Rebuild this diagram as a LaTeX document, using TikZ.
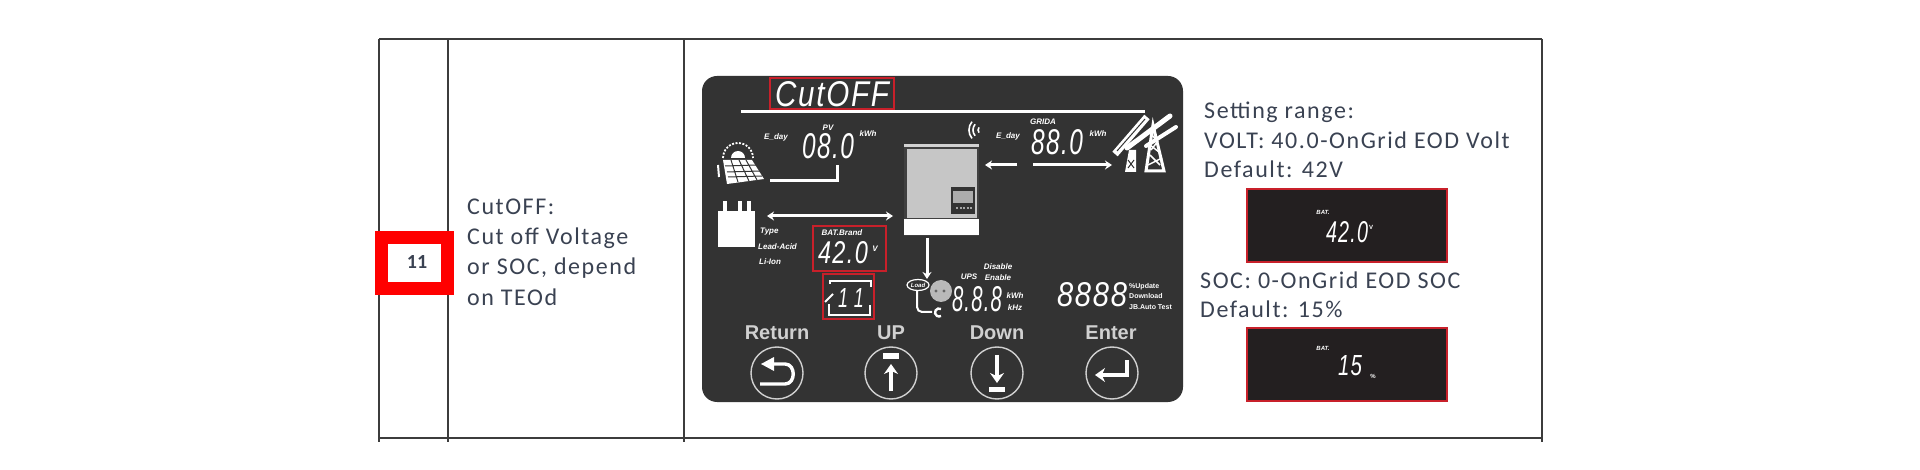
\documentclass[tikz,border=0pt]{standalone}
\usepackage{fontspec}
\usepackage{graphicx}
\usetikzlibrary{arrows.meta}
\setmainfont{Carlito}
\newfontfamily\bodyf{Carlito}[LetterSpace=6.5]
\newfontfamily\arialf{Liberation Sans}
\newfontfamily\lcdf{Liberation Sans}[LetterSpace=6]
\definecolor{panel}{HTML}{333333}
\definecolor{lcdbox}{HTML}{231F20}
\definecolor{tline}{HTML}{3C3C3C}
\definecolor{ink}{HTML}{3A4252}
\definecolor{redb}{HTML}{C8202A}
\definecolor{btn}{HTML}{D0D0D0}
\newcommand{\lcdtxt}[3]{\resizebox{#1pt}{#2pt}{\lcdf\itshape #3}}
\tikzset{
 x=1pt,y=-1pt,
 tbl/.style={draw=tline,line width=1.8pt},
 wl/.style={draw=white,line width=3pt},
 wa/.style={draw=white,line width=3pt,-{Stealth[length=7pt,width=9pt]}},
 wd/.style={draw=white,line width=3pt,{Stealth[length=7pt,width=9pt]}-{Stealth[length=7pt,width=9pt]}},
 redframe/.style={draw=redb,line width=1.3pt},
 body/.style={inner sep=0,anchor=west,text=ink,font=\bodyf\fontsize{24}{28}\selectfont},
 tiny/.style={inner sep=0,text=white,font=\arialf\bfseries\itshape\fontsize{8}{9}\selectfont},
 lcd/.style={inner sep=0,text=white},
 btnlab/.style={inner sep=0,text=btn,font=\arialf\bfseries\fontsize{20}{22}\selectfont},
 btnring/.style={draw=btn,line width=1.4pt},
 btnic/.style={draw=white,line width=3.4pt},
 btnar/.style={draw=white,line width=3.4pt,-{Stealth[length=10pt,width=14pt]}},
}
\begin{document}
\begin{tikzpicture}
\useasboundingbox[fill=white] (0,0) rectangle (1920,470);
% table
\draw[tbl] (379,39) -- (1542,39);
\draw[tbl] (379,438) -- (1542,438);
\draw[tbl] (379,39) -- (379,442);
\draw[tbl] (448,39) -- (448,442);
\draw[tbl] (684,39) -- (684,442);
\draw[tbl] (1542,39) -- (1542,442);
% number box
\draw[draw=red,line width=13pt,fill=white] (381.5,237.5) rectangle (447.5,288.5);
\node[inner sep=0,text=ink,font=\fontsize{20}{22}\selectfont\bfseries] (num) at (417,262) {11};
% description
\node[body] (d1) at (467,207) {CutOFF:};
\node[body] (d2) at (467,238) {Cut off Voltage};
\node[body] (d3) at (467,268) {or SOC, depend};
\node[body] (d4) at (467,297) {on TEOd};
% panel
\fill[panel,rounded corners=15pt] (702,76) rectangle (1183,402);
% heading
\draw[redframe] (770,78) rectangle (894,109);
\node[lcd] (cut) at (832,94) {\lcdtxt{114}{25}{CutOFF}};
\draw[white,line width=3pt] (741,112) -- (1145,112);
% PV
\node[tiny] (eday1) at (776,137) {E\_day};
\node[tiny] (pv) at (828,128) {PV};
\node[lcd] (pvv) at (828,146) {\lcdtxt{52}{25}{08.0}};
\node[tiny] (pvk) at (868,134) {kWh};
\draw[wl] (770,181) -- (837,181) -- (837,165);
% solar icon
\fill[white] (731,158) arc (180:360:7) -- cycle;
\draw[white,line width=1.8pt,dash pattern=on 2pt off 1.5pt] (723,158) arc (180:360:15);
\fill[white] (723,160) -- (752,160) -- (764,179) -- (727,184) -- cycle;
\draw[panel,line width=1pt] (731,160) -- (738,182) (739,160) -- (749,181) (746,160) -- (757,180)
  (725,166) -- (756,165) (727,172) -- (760,171) (728,177) -- (762,176);
\draw[white,line width=2pt] (718,165) -- (719,177);
% wifi
\draw[white,line width=1.6pt] (979,132.6) arc (140:220:4);
\draw[white,line width=1.6pt] (975.1,135.8) arc (140:220:9);
\draw[white,line width=1.6pt] (972,138.4) arc (140:220:13);
% grid
\node[tiny] (eday2) at (1008,136) {E\_day};
\node[tiny] (grida) at (1043,122) {GRIDA};
\node[lcd] (grv) at (1057,142) {\lcdtxt{52}{25}{88.0}};
\node[tiny] (grk) at (1098,134) {kWh};
\draw[wa] (1017,165) -- (985,165);
\draw[wa] (1033,165) -- (1112,165);
% tower
\draw[white,line width=7pt] (1115,154) -- (1147,117);
\draw[panel,line width=1pt] (1117,151) -- (1145,119);
\draw[white,line width=5pt,line cap=round] (1127,148) -- (1170,116);
\draw[white,line width=4pt,line cap=round] (1146,146) -- (1176,127);
\fill[white] (1125,172) -- (1129,150) -- (1136,150) -- (1136,172) -- cycle;
\draw[panel,line width=1pt] (1128,168) -- (1134,160) (1128,160) -- (1134,168);
\draw[white,line width=3pt] (1146,171) -- (1153,125) -- (1164,171) -- cycle;
\draw[white,line width=1.5pt] (1148,165) -- (1162,158) (1150,155) -- (1160,165) (1150,145) -- (1159,152) (1151,150) -- (1158,141) (1152,135) -- (1157,141);
% inverter
\fill[lightgray!70!white] (904,144) rectangle (979,147);
\fill[black!75] (904,147) rectangle (979,236);
\fill[gray!45] (907,149) rectangle (977,218);
\fill[white] (904,219) rectangle (979,235);
\fill[black!80] (951,187) rectangle (975,214);
\fill[gray!65] (953,191) rectangle (973,203);
\draw[gray!70,line width=1.3pt,dash pattern=on 2pt off 1.5pt] (956,208) -- (972,208);
% battery
\fill[white] (718,211) rectangle (755,247);
\fill[white] (723,201) rectangle (727,211);
\fill[white] (738,201) rectangle (742,211);
\fill[white] (747,201) rectangle (751,211);
\fill[panel] (728,208) rectangle (737,211);
\draw[wd] (767,216) -- (893,216);
\node[tiny,anchor=west] (t1) at (760,232) {Type};
\node[tiny,anchor=west] (t2) at (758,247) {Lead-Acid};
\node[tiny,anchor=west] (t3) at (759,262) {Li-Ion};
% battery readout
\draw[redframe] (813,226) rectangle (886,271);
\node[tiny] (bb) at (842,233) {BAT.Brand};
\node[lcd] (bv) at (843,253) {\lcdtxt{50}{22}{42.0}};
\node[tiny] (bvu) at (875,249) {V};
% cycle box
\draw[redframe] (823,274) rectangle (874,319);
\draw[white,line width=2pt] (830,284) -- (830,281) -- (871,281) -- (871,287);
\draw[white,line width=2pt] (829,304) -- (829,315) -- (870,315) -- (870,305);
\draw[white,line width=2pt] (825,302) -- (833,294);
\node[lcd] (cyc) at (851,298) {\lcdtxt{26}{19}{1\,\,1}};
% UPS
\draw[wa] (927,238) -- (927,279);
\draw[white,line width=1.2pt,fill=panel] (918,285) ellipse (11 and 5.5);
\node[inner sep=0,text=white,font=\arialf\bfseries\itshape\fontsize{6}{7}\selectfont] (load) at (918,285) {Load};
\draw[white,line width=2pt,rounded corners=5pt] (917,291) -- (917,312) -- (932,312);
\draw[white,line width=2.4pt] (941,309) arc (-60:-300:4);
\fill[gray!55] (941,291) circle (11);
\fill[black!60] (936,291) circle (1.6) (944,291) circle (1.6);
\node[tiny] (ud) at (998,267) {Disable};
\node[tiny] (ul) at (969,277) {UPS};
\node[tiny] (ue) at (998,278) {Enable};
\node[lcd] (uv) at (977,299) {\lcdtxt{50}{25}{8.8.8}};
\node[tiny] (uk) at (1015,296) {kWh};
\node[tiny] (uh) at (1015,308) {kHz};
% 8888
\node[lcd] (pct) at (1092,295) {\lcdtxt{70}{24}{8888}};
\node[tiny,anchor=west,font=\arialf\bfseries\fontsize{7}{8}\selectfont] (s1) at (1129,287) {\%Update};
\node[tiny,anchor=west,font=\arialf\bfseries\fontsize{7}{8}\selectfont] (s2) at (1129,296) {Download};
\node[tiny,anchor=west,font=\arialf\bfseries\fontsize{7}{8}\selectfont] (s3) at (1129,307) {JB.Auto Test};
% buttons
\node[btnlab] (b1) at (777,333) {Return};
\node[btnlab] (b2) at (891,333) {UP};
\node[btnlab] (b3) at (997,333) {Down};
\node[btnlab] (b4) at (1111,333) {Enter};
\draw[btnring] (777,373) circle (26);
\draw[btnring] (891,373) circle (26);
\draw[btnring] (997,373) circle (26);
\draw[btnring] (1112,373) circle (26);
\draw[btnic] (760,384) -- (785,384) .. controls (796,384) and (796,364) .. (785,364) -- (772,364);
\fill[white] (761,364) -- (774,357) -- (774,371) -- cycle;
\draw[btnic,line width=5pt] (883,356) -- (899,356);
\draw[btnar] (891,391) -- (891,364);
\draw[btnic,line width=5pt] (989,389) -- (1005,389);
\draw[btnar] (997,355) -- (997,383);
\draw[btnar] (1127,360) -- (1127,375) -- (1095,375);
% right column
\node[body] (r1) at (1204,112) {Setting range:};
\node[body] (r2) at (1204,140) {VOLT: 40.0-OnGrid EOD Volt};
\node[body] (r3) at (1204,169) {Default: 42V};
\draw[redframe,fill=lcdbox] (1247,189) rectangle (1447,262);
\node[tiny,font=\arialf\bfseries\itshape\fontsize{6}{7}\selectfont] (v1) at (1323,212) {BAT.};
\node[lcd] (v2) at (1347,232) {\lcdtxt{42}{21}{42.0}};
\node[tiny,font=\arialf\bfseries\fontsize{6}{7}\selectfont] (v3) at (1371,227) {V};
\node[body] (r4) at (1200,280) {SOC: 0-OnGrid EOD SOC};
\node[body] (r5) at (1200,309) {Default: 15\%};
\draw[redframe,fill=lcdbox] (1247,328) rectangle (1447,401);
\node[tiny,font=\arialf\bfseries\itshape\fontsize{6}{7}\selectfont] (s4) at (1323,348) {BAT.};
\node[lcd] (s5) at (1350,366) {\lcdtxt{24}{20}{15}};
\node[tiny,font=\arialf\bfseries\fontsize{6}{7}\selectfont] (s6) at (1373,376) {\%};
\end{tikzpicture}
\end{document}
